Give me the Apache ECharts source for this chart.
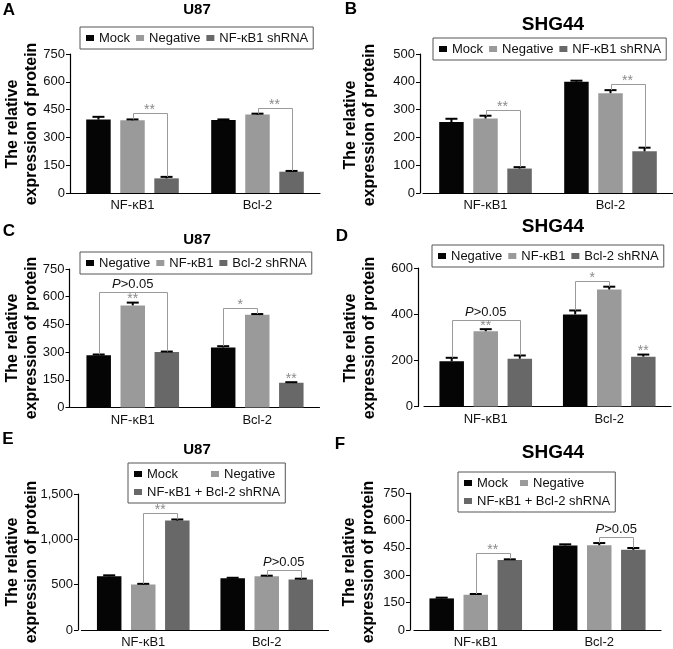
<!DOCTYPE html>
<html>
<head>
<meta charset="utf-8">
<script src="https://cdn.jsdelivr.net/npm/echarts@6/dist/echarts.min.js"></script>
<style>
  html, body { margin: 0; padding: 0; background: #fff; }
  #main { width: 673px; height: 649px; }
</style>
</head>
<body>
<div id="main"></div>
<script>
// categories shared by every panel
const categories = ['NF-κB1', 'Bcl-2'];

// A - U87
const namesA = ['Mock', 'Negative', 'NF-κB1 shRNA'];
const valuesA = [[396, 394], [392, 423], [79, 115]];
const errorsA = [[15, 3], [5, 5], [8, 4]];
// B - SHG44
const namesB = ['Mock', 'Negative', 'NF-κB1 shRNA'];
const valuesB = [[255, 400], [268, 359], [88, 150]];
const errorsB = [[12, 4], [10, 11], [5, 13]];
// C - U87
const namesC = ['Negative', 'NF-κB1', 'Bcl-2 shRNA'];
const valuesC = [[283, 325], [553, 502], [300, 134]];
const errorsC = [[4, 7], [15, 4], [3, 3]];
// D - SHG44
const namesD = ['Negative', 'NF-κB1', 'Bcl-2 shRNA'];
const valuesD = [[196, 399], [326, 507], [207, 216]];
const errorsD = [[15, 17], [9, 12], [14, 9]];
// E - U87
const namesE = ['Mock', 'Negative', 'NF-κB1 + Bcl-2 shRNA'];
const valuesE = [[593, 571], [501, 593], [1207, 556]];
const errorsE = [[10, 5], [8, 6], [12, 10]];
// F - SHG44
const namesF = ['Mock', 'Negative', 'NF-κB1 + Bcl-2 shRNA'];
const valuesF = [[173, 463], [193, 464], [383, 439]];
const errorsF = [[4, 6], [4, 12], [4, 10]];

// y axis ticks
const yMax = [750, 500, 750, 600, 1500, 750];
const yStep = [150, 100, 150, 200, 500, 150];

// significance brackets (series index from -> to) and single stars over bars
const bracketsA = [{cat: 0, from: 1, to: 2, text: '**'}, {cat: 1, from: 1, to: 2, text: '**'}];
const bracketsB = [{cat: 0, from: 1, to: 2, text: '**'}, {cat: 1, from: 1, to: 2, text: '**'}];
const bracketsC = [{cat: 0, from: 0, to: 2, text: 'P>0.05', lift: 11}, {cat: 1, from: 0, to: 1, text: '*'}];
const bracketsD = [{cat: 0, from: 0, to: 2, text: 'P>0.05', lift: 9}, {cat: 1, from: 0, to: 1, text: '*'}];
const bracketsE = [{cat: 0, from: 1, to: 2, text: '**'}, {cat: 1, from: 1, to: 2, text: 'P>0.05'}];
const bracketsF = [{cat: 0, from: 1, to: 2, text: '**'}, {cat: 1, from: 1, to: 2, text: 'P>0.05'}];
const starsC = [{cat: 0, s: 1}, {cat: 1, s: 2}];
const starsD = [{cat: 0, s: 1}, {cat: 1, s: 2}];

const FONT = '"Liberation Sans", Arial, sans-serif';
const COLORS = ['#050505', '#9a9a9a', '#686868'];
const BAR_W = 24.5;
const GAP = 0.39;
const STEP = BAR_W * (1 + GAP);

const panels = [
  {key: 'A', names: namesA, values: valuesA, errors: errorsA, brackets: bracketsA, stars: [], cell: 'U87',
   grid: {left: 70, top: 54, width: 250, height: 139}, yOff: 0, legend: {left: 80, top: 27},
   title: {x: 197, y: 10, size: 15}, letter: {x: 9, y: 10.5}, yName: {x: 22, y: 124}},
  {key: 'B', names: namesB, values: valuesB, errors: errorsB, brackets: bracketsB, stars: [], cell: 'SHG44',
   grid: {left: 423, top: 54, width: 250, height: 139}, yOff: 3, legend: {left: 433, top: 38},
   title: {x: 553, y: 24.5, size: 19}, letter: {x: 351, y: 9}, yName: {x: 360.5, y: 125}},
  {key: 'C', names: namesC, values: valuesC, errors: errorsC, brackets: bracketsC, stars: starsC, cell: 'U87',
   grid: {left: 70.5, top: 269, width: 249, height: 138.5}, yOff: 1, legend: {left: 80, top: 252},
   title: {x: 197, y: 240, size: 15}, letter: {x: 9, y: 231}, yName: {x: 22, y: 338}},
  {key: 'D', names: namesD, values: valuesD, errors: errorsD, brackets: bracketsD, stars: starsD, cell: 'SHG44',
   grid: {left: 424, top: 268, width: 247, height: 138.5}, yOff: 6, legend: {left: 432, top: 245},
   title: {x: 553, y: 226.5, size: 19}, letter: {x: 342, y: 236}, yName: {x: 360, y: 338}},
  {key: 'E', names: namesE, values: valuesE, errors: errorsE, brackets: bracketsE, stars: [], cell: 'U87',
   grid: {left: 81.5, top: 494, width: 247, height: 137}, yOff: 3.5, legend: {left: 128, top: 463, mockW: 61},
   title: {x: 197, y: 450, size: 15}, letter: {x: 8, y: 439}, yName: {x: 22, y: 562}},
  {key: 'F', names: namesF, values: valuesF, errors: errorsF, brackets: bracketsF, stars: [], cell: 'SHG44',
   grid: {left: 414, top: 493, width: 247, height: 138.5}, yOff: 4, legend: {left: 458, top: 472, mockW: 40},
   title: {x: 553, y: 453, size: 19}, letter: {x: 340, y: 444}, yName: {x: 359, y: 562}}
];

const chart = echarts.init(document.getElementById('main'), null, {renderer: 'canvas'});

function thousands(v) {
  return String(v).replace(/\B(?=(\d{3})+(?!\d))/g, ',');
}

// error bar: vertical line from the bar top up to value + error, with a cap
function renderError(params, api) {
  const c = api.value(0), v = api.value(1), s = api.value(2), e = api.value(3);
  const base = api.coord([c, v]);
  const top = api.coord([c, v + e]);
  const x = base[0] + (s - 1) * STEP;
  return {
    type: 'group',
    children: [
      {type: 'line', shape: {x1: x, y1: base[1], x2: x, y2: top[1]}, style: {stroke: '#000', lineWidth: 2}},
      {type: 'line', shape: {x1: x - 6, y1: top[1], x2: x + 6, y2: top[1]}, style: {stroke: '#000', lineWidth: 2}}
    ]
  };
}

function textStyleFor(label, x, y) {
  if (label.indexOf('P') === 0) {
    return {
      x: x, y: y - 8, text: '{i|P}' + label.slice(1), align: 'center', verticalAlign: 'middle',
      fontSize: 13, fontFamily: FONT, fill: '#111',
      rich: {i: {fontStyle: 'italic', fontSize: 13, fontFamily: FONT, fill: '#111'}}
    };
  }
  return {
    x: x, y: y - 3, text: label, align: 'center', verticalAlign: 'middle',
    fontSize: 14, fontFamily: FONT, fill: '#8a8a8a'
  };
}

function makeBracketRenderer(p) {
  return function (params, api) {
    const b = p.brackets[params.dataIndex];
    const tip = s => p.values[s][b.cat] + p.errors[s][b.cat];
    const xc = api.coord([b.cat, 0])[0];
    const x1 = xc + (b.from - 1) * STEP;
    const x2 = xc + (b.to - 1) * STEP;
    const y1 = api.coord([b.cat, tip(b.from)])[1];
    const y2 = api.coord([b.cat, tip(b.to)])[1];
    let maxTip = 0;
    for (let s = b.from; s <= b.to; s++) maxTip = Math.max(maxTip, tip(s));
    const yTop = Math.round(api.coord([b.cat, maxTip])[1] - (b.lift || 6)) + 0.5;
    return {
      type: 'group',
      children: [
        {type: 'polyline', shape: {points: [[Math.round(x1) + 0.5, y1], [Math.round(x1) + 0.5, yTop], [Math.round(x2) + 0.5, yTop], [Math.round(x2) + 0.5, y2]]},
         style: {stroke: '#9a9a9a', lineWidth: 1, fill: null}},
        {type: 'text', style: textStyleFor(b.text, (x1 + x2) / 2, yTop)}
      ]
    };
  };
}

function makeStarRenderer(p) {
  return function (params, api) {
    const st = p.stars[params.dataIndex];
    const tip = p.values[st.s][st.cat] + p.errors[st.s][st.cat];
    const pt = api.coord([st.cat, tip]);
    return {type: 'text', style: textStyleFor('**', pt[0] + (st.s - 1) * STEP, pt[1])};
  };
}

const grid = [], xAxis = [], yAxis = [], series = [], legend = [], graphic = [];

panels.forEach(function (p, i) {
  grid.push(p.grid);
  xAxis.push({
    gridIndex: i, type: 'category', data: categories,
    axisLine: {lineStyle: {color: '#000', width: 1.2}},
    axisTick: {alignWithLabel: true, length: 4, lineStyle: {color: '#000'}},
    axisLabel: {fontSize: 13, color: '#111', margin: 6, fontFamily: FONT}
  });
  yAxis.push({
    gridIndex: i, type: 'value', min: 0, max: yMax[i], interval: yStep[i], offset: p.yOff,
    axisLine: {show: true, lineStyle: {color: '#000', width: 1.2}},
    axisTick: {show: true, length: 4, lineStyle: {color: '#000'}},
    splitLine: {show: false},
    axisLabel: {fontSize: 13, color: '#111', margin: 5, fontFamily: FONT, formatter: thousands}
  });

  p.names.forEach(function (n, s) {
    series.push({
      type: 'bar', name: p.key + '|' + n, xAxisIndex: i, yAxisIndex: i,
      data: p.values[s], barWidth: BAR_W, barGap: (GAP * 100) + '%',
      itemStyle: {color: COLORS[s]}, silent: true
    });
  });

  const errData = [];
  p.values.forEach(function (row, s) {
    row.forEach(function (v, c) { errData.push([c, v, s, p.errors[s][c]]); });
  });
  series.push({type: 'custom', xAxisIndex: i, yAxisIndex: i, data: errData, encode: {x: 0, y: 1},
    renderItem: renderError, silent: true, z: 3});
  series.push({type: 'custom', xAxisIndex: i, yAxisIndex: i, data: p.brackets.map(b => [b.cat, 0]),
    encode: {x: 0, y: 1}, renderItem: makeBracketRenderer(p), silent: true, z: 4});
  if (p.stars.length) {
    series.push({type: 'custom', xAxisIndex: i, yAxisIndex: i, data: p.stars.map(st => [st.cat, 0]),
      encode: {x: 0, y: 1}, renderItem: makeStarRenderer(p), silent: true, z: 4});
  }

  const mockW = p.legend.mockW;
  legend.push({
    left: p.legend.left, top: p.legend.top, width: mockW ? 150 : 'auto',
    orient: 'horizontal', selectedMode: false,
    data: p.names.map(n => p.key + '|' + n),
    icon: 'rect', itemWidth: 8, itemHeight: 6, itemGap: mockW ? 3 : 6,
    padding: [3.5, 5, 3.5, 6],
    borderColor: '#555', borderWidth: 1, backgroundColor: '#fff',
    textStyle: {fontSize: 13, color: '#111', fontFamily: FONT, lineHeight: 15,
      rich: {w: {width: mockW || 0, fontSize: 13, color: '#111', fontFamily: FONT, lineHeight: 15}}},
    formatter: function (name) {
      const t = name.split('|')[1];
      return (mockW && t === 'Mock') ? '{w|Mock}' : t;
    }
  });

  graphic.push({
    type: 'text', x: p.title.x, y: p.title.y,
    style: {text: p.cell, fontSize: p.title.size, fontWeight: 'bold', fontFamily: FONT, fill: '#000',
      align: 'center', verticalAlign: 'middle'}
  });
  graphic.push({
    type: 'text', x: p.letter.x, y: p.letter.y,
    style: {text: p.key, fontSize: 17, fontWeight: 'bold', fontFamily: FONT, fill: '#000',
      align: 'center', verticalAlign: 'middle'}
  });
  graphic.push({
    type: 'text', x: p.yName.x, y: p.yName.y, rotation: Math.PI / 2,
    style: {text: 'The relative\nexpression of protein', fontSize: 16, fontWeight: 'bold', fontFamily: FONT,
      fill: '#000', align: 'center', verticalAlign: 'middle', lineHeight: 19}
  });
});

chart.setOption({
  animation: false,
  backgroundColor: '#fff',
  grid: grid,
  xAxis: xAxis,
  yAxis: yAxis,
  legend: legend,
  series: series,
  graphic: graphic
});
</script>
</body>
</html>
